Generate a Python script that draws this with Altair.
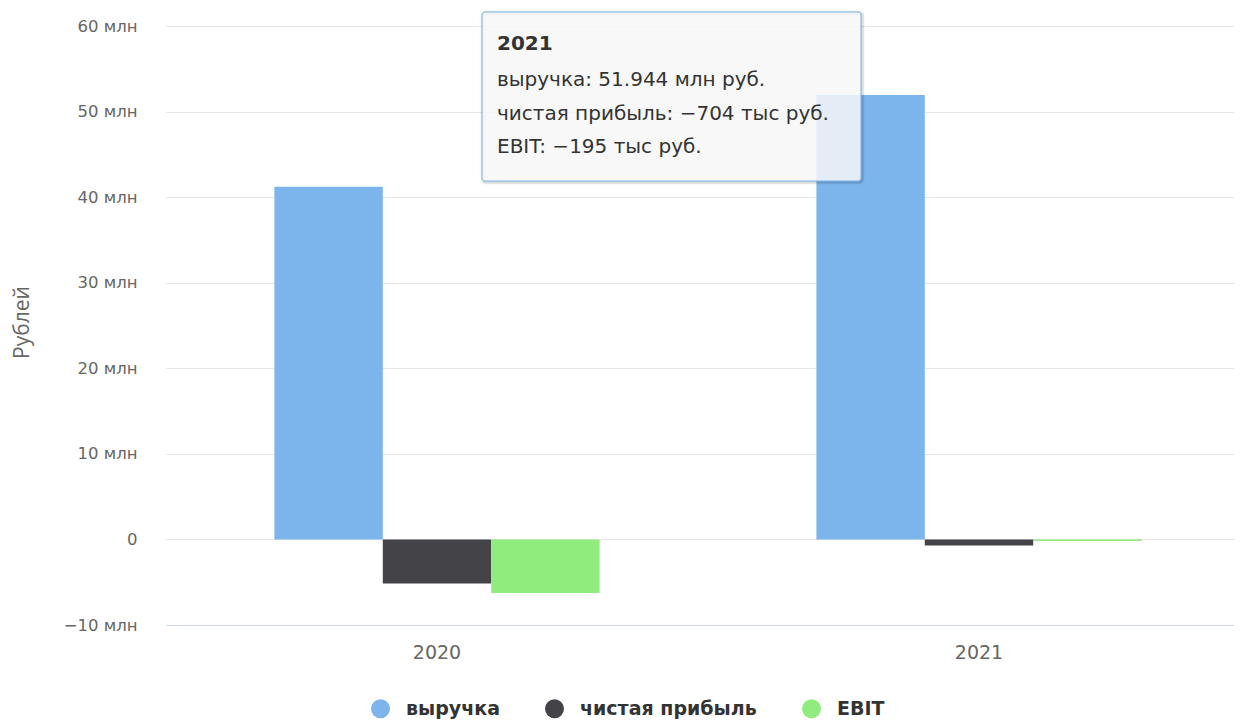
import altair as alt
import pandas as pd

years = ["2020", "2021"]
series_names = ["выручка", "чистая прибыль", "EBIT"]
revenue = [41.2, 51.944]
net_profit = [-5.15, -0.704]
ebit = [-6.25, -0.195]
colors = ["#7cb5ec", "#434348", "#90ed7d"]
y_ticks = [-10, 0, 10, 20, 30, 40, 50, 60]

tooltip_title = "2021"
tooltip_lines = ["выручка: 51.944 млн руб.",
                 "чистая прибыль: −704 тыс руб.",
                 "EBIT: −195 тыс руб."]

rows = []
for i, yr in enumerate(years):
    for name, vals in zip(series_names, [revenue, net_profit, ebit]):
        rows.append({"year": yr, "series": name, "value": vals[i]})
df = pd.DataFrame(rows)

FONT = "DejaVu Sans"

bars = alt.Chart(df).mark_bar().encode(
    x=alt.X("year:N", sort=years,
            scale=alt.Scale(range=[0, 1084], paddingInner=0.4, paddingOuter=0.2),
            axis=alt.Axis(title=None, labelAngle=0, labelFont=FONT, labelFontSize=19,
                          labelColor="#666666", labelPadding=18, ticks=False,
                          domainColor="#ccd6eb", domainWidth=1, grid=False, zindex=1)),
    xOffset=alt.XOffset("series:N", sort=series_names,
                        scale=alt.Scale(paddingInner=0, paddingOuter=0)),
    y=alt.Y("value:Q",
            scale=alt.Scale(domain=[-10, 60], nice=False, zero=False),
            axis=alt.Axis(values=y_ticks, title="Рублей",
                          labelExpr="datum.value == 0 ? '0' : replace(format(datum.value, 'd'), '-', '−') + ' млн'",
                          labelFont=FONT, labelFontSize=16.5, labelColor="#666666",
                          labelPadding=29, ticks=False, domain=False,
                          gridColor="#e6e6e6", gridWidth=1,
                          titleFont="Open Sans", titleFontSize=21, titleFontWeight="normal",
                          titleColor="#666666", titleAngle=270, titleX=-144, titleY=296,
                          titleAlign="center", titleBaseline="middle")),
    color=alt.Color("series:N", sort=series_names,
                    scale=alt.Scale(domain=series_names, range=colors),
                    legend=alt.Legend(title=None, orient="none", direction="horizontal",
                                      legendX=205, legendY=673, symbolType="circle",
                                      symbolSize=361, symbolStrokeWidth=0,
                                      labelFont=FONT, labelFontSize=19, labelLimit=500,
                                      labelFontWeight="bold", labelColor="#333333",
                                      columnPadding=45, labelOffset=16, padding=0)),
)

one = pd.DataFrame({"k": [0]})

shadow1 = alt.Chart(one).mark_rect(fill=None, stroke="#000000", strokeOpacity=0.05,
                                   strokeWidth=5, cornerRadius=3).encode(
    x=alt.value(317), x2=alt.value(696), y=alt.value(-13), y2=alt.value(156))
shadow2 = alt.Chart(one).mark_rect(fill=None, stroke="#000000", strokeOpacity=0.1,
                                   strokeWidth=3, cornerRadius=3).encode(
    x=alt.value(317), x2=alt.value(696), y=alt.value(-13), y2=alt.value(156))
box = alt.Chart(one).mark_rect(fill="#f7f7f7", fillOpacity=0.85, stroke="#7cb5ec",
                               strokeWidth=1, cornerRadius=3).encode(
    x=alt.value(316), x2=alt.value(695), y=alt.value(-14), y2=alt.value(155))

tt_title = alt.Chart(one).mark_text(align="left", baseline="middle", font=FONT,
                                    fontSize=20, fontWeight="bold", color="#333333",
                                    text=tooltip_title).encode(
    x=alt.value(331), y=alt.value(18))

tt_lines = alt.Chart(one).mark_text(align="left", baseline="middle", font=FONT,
                                    fontSize=20, color="#333333", lineHeight=33.5,
                                    text=tooltip_lines).encode(
    x=alt.value(331), y=alt.value(54))

chart = alt.layer(bars, shadow1, shadow2, box, tt_title, tt_lines).properties(
    width=1068, height=599,
    padding={"left": 158, "top": 18, "right": 0, "bottom": 94},
    autosize="none",
).configure_view(stroke=None)

chart.save("out.html", embed_options={"renderer": "svg", "actions": False})
